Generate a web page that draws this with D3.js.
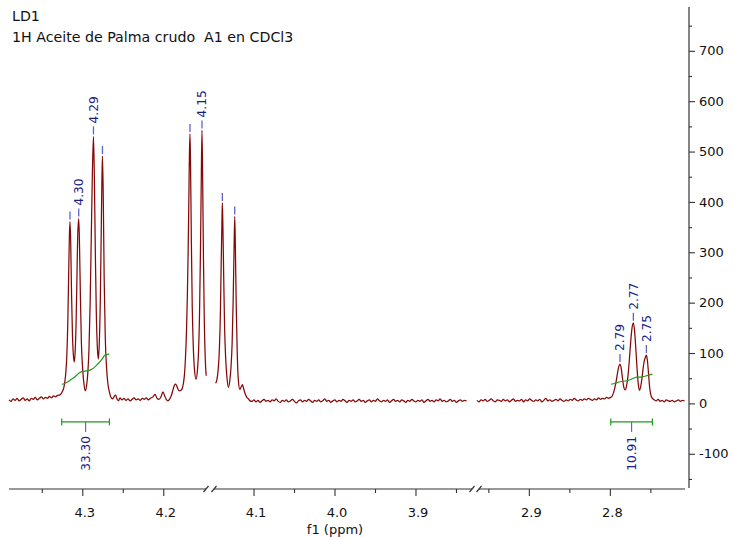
<!DOCTYPE html>
<html>
<head>
<meta charset="utf-8">
<script src="https://cdn.jsdelivr.net/npm/d3@7"></script>
<style>
  html, body { margin: 0; padding: 0; background: #fff; }
  svg { display: block; font-family: "DejaVu Sans", Verdana, sans-serif; }
</style>
</head>
<body>
<svg id="chart" width="734" height="537"></svg>
<script>
// ---- data -------------------------------------------------------------
const titleLines = ["LD1", "1H Aceite de Palma crudo  A1 en CDCl3"];
const axisTitle = "f1 (ppm)";

// ppm windows of the broken horizontal axis (high ppm on the left)
const windows = [[4.3905, 4.1465], [4.1467, 3.8365], [2.9645, 2.7070]];
const majorTicks = [4.3, 4.2, 4.1, 4.0, 3.9, 2.9, 2.8];
const minorTicks = [4.35, 4.25, 4.05, 3.95, 3.85, 2.95, 2.85, 2.75];
const yMajorTicks = [-100, 0, 100, 200, 300, 400, 500, 600, 700];
const yMinorTicks = [-150, -50, 50, 150, 250, 350, 450, 550, 650, 750];
const yDomain = [-168, 787];

// spectrum trace, [ppm, intensity], one array per axis window
const spectrumA = [
  [4.3905,7],[4.3880,4],[4.3855,9],[4.3830,6],[4.3805,10],[4.3780,5],[4.3755,8],[4.3730,11],
  [4.3705,6],[4.3680,9],[4.3655,5],[4.3630,10],[4.3605,8],[4.3580,12],[4.3555,7],[4.3530,10],
  [4.3505,13],[4.3480,9],[4.3455,12],[4.3430,10],[4.3405,14],[4.3380,11],[4.3355,15],[4.3330,13],
  [4.3305,16],[4.3275,17],[4.3251,22],[4.3226,33],[4.3207,55],[4.3191,95],[4.3179,160],[4.3169,250],
  [4.3159,335],[4.3152,361],[4.3143,320],[4.3133,220],[4.3122,140],[4.3111,98],[4.3100,82],[4.3089,100],
  [4.3078,150],[4.3067,240],[4.3057,330],[4.3044,367],[4.3035,320],[4.3023,210],[4.3011,120],[4.2996,70],
  [4.2979,38],[4.2963,25],[4.2947,35],[4.2932,60],[4.2917,110],[4.2903,200],[4.2889,330],[4.2875,460],
  [4.2862,530],[4.2851,450],[4.2839,300],[4.2827,180],[4.2815,115],[4.2802,88],[4.2790,120],[4.2778,200],
  [4.2767,330],[4.2758,440],[4.2751,491],[4.2741,410],[4.2730,250],[4.2716,130],[4.2700,70],[4.2683,38],
  [4.2664,22],[4.2646,12],[4.2627,9],[4.2609,13],[4.2590,17],[4.2572,9],[4.2553,5],[4.2535,11],
  [4.2510,7],[4.2485,10],[4.2460,6],[4.2435,9],[4.2410,5],[4.2385,8],[4.2360,11],[4.2335,7],
  [4.2310,9],[4.2285,6],[4.2260,10],[4.2235,8],[4.2210,11],[4.2185,7],[4.2160,10],[4.2127,13],
  [4.2102,18],[4.2077,10],[4.2053,8],[4.2028,13],[4.2004,23],[4.1983,15],[4.1963,8],[4.1942,5],
  [4.1920,9],[4.1899,16],[4.1880,27],[4.1865,35],[4.1852,38],[4.1837,36],[4.1818,28],[4.1800,25],
  [4.1781,26],[4.1765,30],[4.1751,40],[4.1738,58],[4.1726,90],[4.1714,140],[4.1703,210],[4.1693,300],
  [4.1683,420],[4.1677,495],[4.1670,535],[4.1663,470],[4.1653,320],[4.1642,190],[4.1630,115],[4.1615,68],
  [4.1596,48],[4.1578,66],[4.1564,105],[4.1552,180],[4.1541,300],[4.1531,440],[4.1522,542],[4.1514,450],
  [4.1504,290],[4.1493,160],[4.1482,90],[4.1470,55]
];
const spectrumB = [
  [4.1467,40],[4.1451,48],[4.1435,70],[4.1421,110],[4.1409,180],[4.1398,290],[4.1390,360],[4.1385,398],
  [4.1378,350],[4.1368,250],[4.1357,150],[4.1344,90],[4.1330,55],[4.1311,32],[4.1293,45],[4.1278,72],
  [4.1264,120],[4.1252,200],[4.1241,300],[4.1232,371],[4.1224,310],[4.1213,190],[4.1201,100],[4.1187,45],
  [4.1169,28],[4.1152,33],[4.1137,37],[4.1120,28],[4.1101,18],[4.1083,12],[4.1064,9],[4.1043,5],
  [4.1020,4],[4.0995,7],[4.0970,3],[4.0945,6],[4.0920,2],[4.0895,5],[4.0870,8],[4.0845,4],
  [4.0820,6],[4.0795,3],[4.0770,7],[4.0745,5],[4.0720,9],[4.0695,4],[4.0670,2],[4.0645,6],
  [4.0620,4],[4.0595,7],[4.0570,3],[4.0545,5],[4.0520,8],[4.0495,4],[4.0470,1],[4.0445,5],
  [4.0420,7],[4.0395,3],[4.0370,6],[4.0345,4],[4.0320,8],[4.0295,5],[4.0270,2],[4.0245,6],
  [4.0220,4],[4.0195,7],[4.0170,3],[4.0145,5],[4.0120,9],[4.0095,4],[4.0070,6],[4.0045,2],
  [4.0020,5],[3.9995,7],[3.9970,3],[3.9945,6],[3.9920,4],[3.9895,8],[3.9870,5],[3.9845,2],
  [3.9820,6],[3.9795,4],[3.9770,7],[3.9745,3],[3.9720,5],[3.9695,8],[3.9670,4],[3.9645,6],
  [3.9620,2],[3.9595,5],[3.9570,7],[3.9545,3],[3.9520,6],[3.9495,4],[3.9470,9],[3.9445,5],
  [3.9420,3],[3.9395,6],[3.9370,4],[3.9345,7],[3.9320,2],[3.9295,5],[3.9270,8],[3.9245,4],
  [3.9220,6],[3.9195,3],[3.9170,7],[3.9145,5],[3.9120,2],[3.9095,6],[3.9070,4],[3.9045,8],
  [3.9020,5],[3.8995,3],[3.8970,6],[3.8945,4],[3.8920,7],[3.8895,2],[3.8870,5],[3.8845,8],
  [3.8820,4],[3.8795,6],[3.8770,3],[3.8745,7],[3.8720,5],[3.8695,9],[3.8670,4],[3.8645,6],
  [3.8620,3],[3.8595,5],[3.8570,8],[3.8545,4],[3.8520,6],[3.8495,2],[3.8470,5],[3.8445,7],
  [3.8420,4],[3.8395,6],[3.8370,5]
];
const spectrumC = [
  [2.9640,6],[2.9615,3],[2.9590,7],[2.9565,5],[2.9540,8],[2.9515,4],[2.9490,6],[2.9465,9],
  [2.9440,5],[2.9415,3],[2.9390,7],[2.9365,6],[2.9340,4],[2.9315,8],[2.9290,5],[2.9265,7],
  [2.9240,3],[2.9215,6],[2.9190,9],[2.9165,4],[2.9140,6],[2.9115,5],[2.9090,8],[2.9065,3],
  [2.9040,7],[2.9015,5],[2.8990,9],[2.8965,6],[2.8940,4],[2.8915,7],[2.8890,5],[2.8865,8],
  [2.8840,3],[2.8815,6],[2.8790,10],[2.8765,5],[2.8740,7],[2.8715,4],[2.8690,6],[2.8665,8],
  [2.8640,5],[2.8615,9],[2.8590,6],[2.8565,4],[2.8540,7],[2.8515,5],[2.8490,8],[2.8465,6],
  [2.8440,10],[2.8415,7],[2.8390,5],[2.8365,8],[2.8340,6],[2.8315,9],[2.8290,7],[2.8265,10],
  [2.8240,8],[2.8215,6],[2.8190,9],[2.8165,7],[2.8140,11],[2.8115,8],[2.8090,10],[2.8065,9],
  [2.8040,12],[2.8015,10],[2.7990,12],
  [2.7977,13],[2.7960,19],[2.7942,29],[2.7923,43],[2.7906,60],[2.7890,73],[2.7875,78],[2.7862,72],
  [2.7846,52],[2.7830,34],[2.7812,27],[2.7795,34],[2.7778,52],[2.7760,85],[2.7743,122],[2.7728,148],
  [2.7710,160],[2.7696,146],[2.7680,110],[2.7664,68],[2.7649,38],[2.7636,26],[2.7621,32],[2.7605,48],
  [2.7589,70],[2.7573,86],[2.7560,92],[2.7549,96],[2.7537,86],[2.7523,60],[2.7509,32],[2.7494,17],
  [2.7479,11],
  [2.7454,7],[2.7429,5],[2.7404,8],[2.7379,4],[2.7354,6],[2.7329,3],[2.7304,7],[2.7279,5],
  [2.7254,4],[2.7229,6],[2.7204,3],[2.7179,5],[2.7154,7],[2.7129,4],[2.7104,6],[2.7079,5]
];

// picked peaks: ppm, intensity, whether the ppm is printed
const peaks = [
  [4.3152, 361, false], [4.3044, 367, true], [4.2862, 530, true], [4.2751, 491, false],
  [4.1670, 535, false], [4.1522, 542, true], [4.1385, 398, false], [4.1232, 371, false],
  [2.7875, 78, true], [2.7710, 160, true], [2.7549, 96, true]
];

// integral regions: range, value, running-integral trace
const integralRanges = [[4.3254, 4.2665], [2.7989, 2.7475]];
const integralValues = [33.30, 10.91];
const integralCurveA = [
  [4.3254,38],[4.3226,39],[4.3189,42],[4.3152,46],[4.3115,50],[4.3069,56],[4.3035,61],[4.3007,63],
  [4.2967,64],[4.2905,66],[4.2862,70],[4.2822,76],[4.2781,83],[4.2751,89],[4.2720,96],[4.2695,97],
  [4.2667,98]
];
const integralCurveB = [
  [2.7985,38],[2.7936,40],[2.7874,43],[2.7791,45],[2.7751,47],[2.7710,50],[2.7664,52],[2.7627,52],
  [2.7590,53],[2.7544,55],[2.7475,58]
];

// ---- layout -----------------------------------------------------------
const W = 734, H = 537;
const xAxisY = 489, yAxisX = 689;
const segRanges = [[9, 206.6], [215.7, 466.9], [476.6, 685.2]];
const axisPieces = [[9, 206], [214, 472], [479, 685]];
const breakCenters = [206, 214, 472, 479];

const colSpec = "#850808", colInt = "#1f9a1f", colLbl = "#1a1d88", colMark = "#5f63c8";

const svg = d3.select("#chart");
svg.append("rect").attr("width", W).attr("height", H).attr("fill", "#fff");

const xs = windows.map((w, i) => d3.scaleLinear().domain(w).range(segRanges[i]));
const y = d3.scaleLinear().domain(yDomain).range([488, 7]);
const segOf = p => windows.findIndex(w => p <= w[0] && p >= w[1]);
const xOf = p => xs[segOf(p)](p);

// title
svg.append("g").selectAll("text").data(titleLines).join("text")
  .attr("x", 12).attr("y", (d, i) => 21 + i * 21)
  .attr("font-size", 14.2).attr("fill", "#111")
  .style("white-space", "pre").text(d => d);

// spectrum
const line = (sx) => d3.line().x(d => sx(d[0])).y(d => y(d[1])).curve(d3.curveMonotoneX);
[spectrumA, spectrumB, spectrumC].forEach((s, i) => {
  svg.append("path").datum(s).attr("d", line(xs[i]))
    .attr("fill", "none").attr("stroke", colSpec).attr("stroke-width", 1.25)
    .attr("stroke-linejoin", "round");
});

// integrals
[integralCurveA, integralCurveB].forEach(c => {
  const sx = xs[segOf(c[0][0])];
  svg.append("path").datum(c).attr("d", line(sx))
    .attr("fill", "none").attr("stroke", colInt).attr("stroke-width", 1.2);
});
integralRanges.forEach((r, i) => {
  const x0 = xOf(r[0]), x1 = xOf(r[1]), yb = y(0) + 18.5, xm = (x0 + x1) / 2;
  const g = svg.append("g");
  g.append("line").attr("x1", x0).attr("x2", x1).attr("y1", yb).attr("y2", yb)
    .attr("stroke", colInt).attr("stroke-width", 1.2);
  [x0, x1].forEach(xx => g.append("line").attr("x1", xx).attr("x2", xx)
    .attr("y1", yb - 3.5).attr("y2", yb + 3.5).attr("stroke", colInt).attr("stroke-width", 1.2));
  g.append("line").attr("x1", xm).attr("x2", xm).attr("y1", yb).attr("y2", yb + 10)
    .attr("stroke", colMark).attr("stroke-width", 1.2);
  g.append("text").attr("transform", `translate(${xm},${yb + 14}) rotate(-90)`)
    .attr("text-anchor", "end").attr("dy", "0.36em")
    .attr("font-size", 12.2).attr("fill", colLbl).text(integralValues[i].toFixed(2));
});

// peak markers and labels
const pk = svg.append("g");
peaks.forEach(([p, v, lab]) => {
  const px = xOf(p), py = y(v);
  pk.append("line").attr("x1", px).attr("x2", px).attr("y1", py - 2).attr("y2", py - 10)
    .attr("stroke", colMark).attr("stroke-width", 1.3);
  if (lab) {
    pk.append("text").attr("transform", `translate(${px},${py - 13}) rotate(-90)`)
      .attr("dy", "0.36em").attr("font-size", 12.2).attr("fill", colLbl).text(p.toFixed(2));
  }
});

// x axis (broken)
const gx = svg.append("g").attr("transform", `translate(0,${xAxisY})`);
axisPieces.forEach(a => gx.append("line").attr("x1", a[0]).attr("x2", a[1])
  .attr("stroke", "#333").attr("stroke-width", 1.2));
breakCenters.forEach(c => gx.append("line").attr("x1", c - 2.5).attr("x2", c + 2.5)
  .attr("y1", 3).attr("y2", -3).attr("stroke", "#333").attr("stroke-width", 1.2));
xs.forEach((sx, i) => {
  const w = windows[i];
  const inW = t => t <= w[0] && t >= w[1];
  const major = gx.append("g").call(d3.axisBottom(sx).tickValues(majorTicks.filter(inW))
    .tickSize(7).tickPadding(11.5).tickFormat(d3.format(".1f")));
  const minor = gx.append("g").call(d3.axisBottom(sx).tickValues(minorTicks.filter(inW))
    .tickSize(4).tickFormat(""));
  [major, minor].forEach(g => {
    g.select(".domain").remove();
    g.selectAll("line").attr("stroke", "#333").attr("stroke-width", 1.1);
  });
  major.selectAll("text").attr("font-size", 13).attr("fill", "#111")
    .attr("font-family", "DejaVu Sans, Verdana, sans-serif").attr("dx", 2);
});
svg.append("text").attr("x", 335).attr("y", 534).attr("text-anchor", "middle")
  .attr("font-size", 13).attr("fill", "#111").text(axisTitle);

// y axis (right side)
const gy = svg.append("g").attr("transform", `translate(${yAxisX},0)`);
gy.append("line").attr("y1", 7).attr("y2", 488).attr("stroke", "#333").attr("stroke-width", 1.2);
const yMaj = gy.append("g").call(d3.axisRight(y).tickValues(yMajorTicks).tickSize(6).tickPadding(4)
  .tickFormat(d => String(d)));
const yMin = gy.append("g").call(d3.axisRight(y).tickValues(yMinorTicks).tickSize(3).tickFormat(""));
[yMaj, yMin].forEach(g => {
  g.select(".domain").remove();
  g.selectAll("line").attr("stroke", "#333").attr("stroke-width", 1.1);
});
yMaj.selectAll("text").attr("font-size", 13).attr("fill", "#111")
  .attr("font-family", "DejaVu Sans, Verdana, sans-serif");
</script>
</body>
</html>
